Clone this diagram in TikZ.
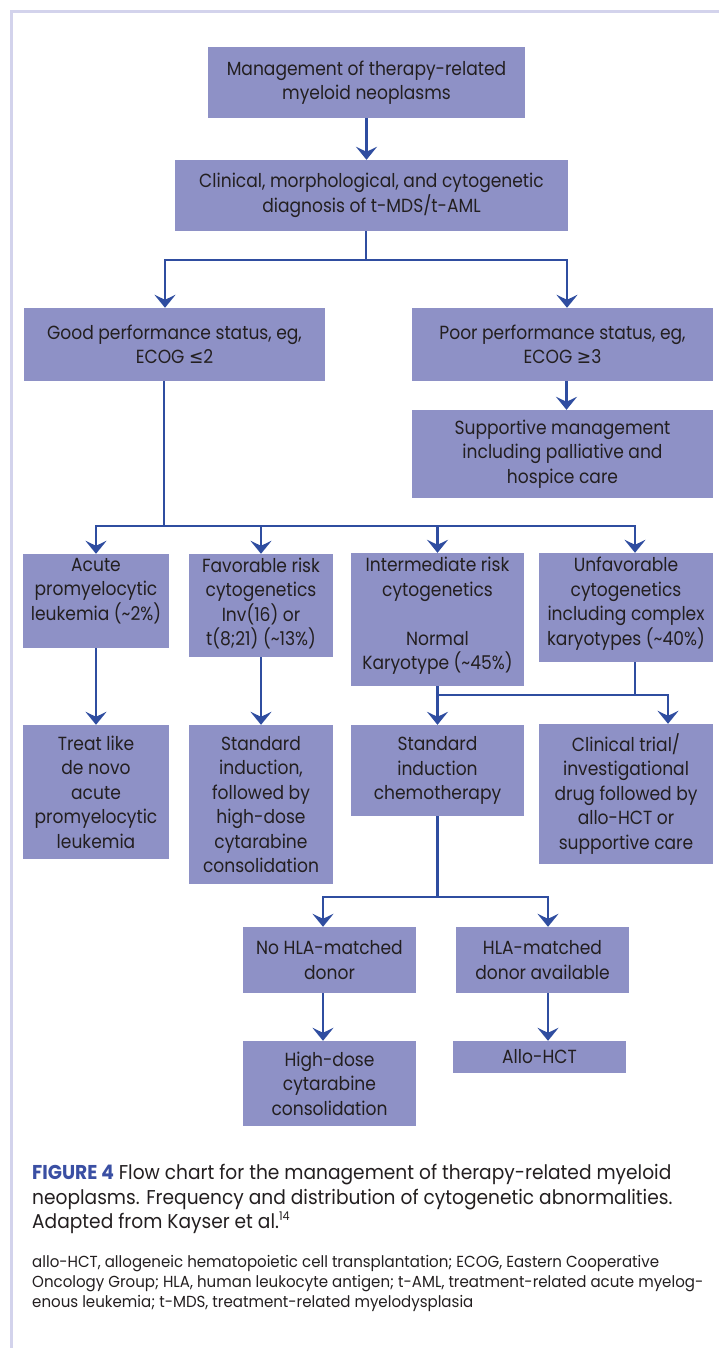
\documentclass[tikz,border=0pt]{standalone}
\usepackage{fontspec}
\setmainfont[FakeStretch=0.9]{Poppins}
\newfontfamily\symfont[FakeStretch=0.9]{DejaVu Sans}
\newfontfamily\capfont[FakeStretch=0.93]{Poppins}
\newfontfamily\fnfont[FakeStretch=0.94]{Poppins}
\usetikzlibrary{arrows.meta}
\definecolor{boxfill}{HTML}{8E91C6}
\definecolor{arrowblue}{HTML}{2F4DA0}
\definecolor{txtcol}{HTML}{231F20}
\definecolor{figblue}{HTML}{3A4FA3}
\definecolor{framecol}{HTML}{D3D3EC}
\begin{document}
\begin{tikzpicture}[x=1pt,y=-1pt,
  box/.style={fill=boxfill, draw=none, inner sep=0pt, text=txtcol, align=center,
    font=\fontsize{19}{24.5}\selectfont},
  txt/.style={inner sep=0pt, text=txtcol, align=center, font=\fontsize{19}{24.5}\selectfont},
  captxt/.style={inner sep=0pt, text=txtcol, anchor=base west, font=\capfont\fontsize{20}{24.5}\selectfont},
  fntxt/.style={inner sep=0pt, text=txtcol, anchor=base west, font=\fnfont\fontsize{16}{20}\selectfont},
  ln/.style={draw=arrowblue, line width=2.6pt},
  arr/.style={draw=arrowblue, line width=2.6pt, -{Stealth[length=13pt,width=21pt,inset=5pt]}},
]
\useasboundingbox (0,0) rectangle (719,1348);
\fill[white] (0,0) rectangle (719,1348);
\fill[framecol] (10,10) rectangle (719,13);
\fill[framecol] (10,10) rectangle (13,1348);

% boxes
\node[box, minimum width=317pt, minimum height=71pt] (n1) at (366.5,82.5) {Management of therapy-related\\myeloid neoplasms};
\node[box, minimum width=393pt, minimum height=71pt] (n2) at (371.5,195.5) {Clinical, morphological, and cytogenetic\\diagnosis of t-MDS/t-AML};
\node[box, minimum width=301pt, minimum height=73pt] (good) at (174.5,344.5) {Good performance status, eg,\\ECOG {\symfont ≤}2};
\node[box, minimum width=301pt, minimum height=73pt] (poor) at (562.5,344.5) {Poor performance status, eg,\\ECOG {\symfont ≥}3};
\node[box, minimum width=301pt, minimum height=88pt] (supp) at (562.5,454) {Supportive management\\including palliative and\\hospice care};

\node[box, minimum width=146pt, minimum height=94pt] (acute) at (96,601) {};
\node[txt] (acute-t) at (96,591) {Acute\\promyelocytic\\leukemia (\textasciitilde2\%)};
\node[box, minimum width=144pt, minimum height=103pt] (fav) at (261,605.5) {};
\node[txt] (fav-t) at (261,603.5) {Favorable risk\\cytogenetics\\Inv(16) or\\t(8;21) (\textasciitilde13\%)};
\node[box, minimum width=173pt, minimum height=133pt] (inter) at (437.5,619.5) {};
\node[txt] (inter-t) at (437.5,616) {Intermediate risk\\cytogenetics\\[24.5pt]Normal\\Karyotype (\textasciitilde45\%)};
\node[box, minimum width=174pt, minimum height=109pt] (unfav) at (626,607.5) {};
\node[txt] (unfav-t) at (626,603.5) {Unfavorable\\cytogenetics\\including complex\\karyotypes (\textasciitilde40\%)};

\node[box, minimum width=146pt, minimum height=134pt] (treat) at (96,792) {Treat like\\de novo\\acute\\promyelocytic\\leukemia};
\node[box, minimum width=144pt, minimum height=159pt] (std) at (261,804.5) {Standard\\induction,\\followed by\\high-dose\\cytarabine\\consolidation};
\node[box, minimum width=173pt, minimum height=91pt] (chemo) at (437.5,770.5) {Standard\\induction\\chemotherapy};
\node[box, minimum width=174pt, minimum height=140pt] (trial) at (626,794) {Clinical trial/\\investigational\\drug followed by\\allo-HCT or\\supportive care};

\node[box, minimum width=173pt, minimum height=66pt] (nohla) at (329.5,960) {No HLA-matched\\donor};
\node[box, minimum width=173pt, minimum height=66pt] (hla) at (542.5,960) {HLA-matched\\donor available};
\node[box, minimum width=173pt, minimum height=85pt] (high) at (329.5,1083.5) {High-dose\\cytarabine\\consolidation};
\node[box, minimum width=173pt, minimum height=32pt] (allo) at (539.5,1057) {Allo-HCT};

% connectors
\draw[arr] (n1.south) -- (n1.south |- n2.north);
\coordinate (j1) at (366,260);
\draw[ln] (n2.south -| j1) -- (j1);
\coordinate (g-in) at ([xshift=-9.5pt]good.north);
\coordinate (p-in) at ([xshift=4.5pt]poor.north);
\draw[arr] (j1) -| (g-in);
\draw[arr] (j1) -| (p-in);
\coordinate (p-out) at ([xshift=4pt]poor.south);
\draw[arr] (p-out) -- (p-out |- supp.north);

\coordinate (j2) at (164,526);
\draw[ln] (good.south -| j2) -- (j2);
\coordinate (u-in) at ([xshift=9pt]unfav.north);
\draw[arr] (j2) -| (acute.north);
\draw[arr] (j2) -| (fav.north);
\draw[arr] (j2) -| (inter.north);
\draw[arr] (j2) -| (u-in);

\draw[arr] (acute.south) -- (treat.north);
\draw[arr] (fav.south) -- (std.north);
\coordinate (j3) at (437.5,695);
\draw[ln] (inter.south) -- (j3);
\coordinate (u-out) at ([xshift=9pt]unfav.south);
\draw[ln] (u-out) -- (u-out |- j3);
\coordinate (t-in) at ([xshift=42pt]trial.north);
\draw[arr] (j3) -- (chemo.north);
\draw[arr] (j3) -| (t-in);

\coordinate (j4) at (437.5,897);
\draw[ln] (chemo.south) -- (j4);
\coordinate (nh-in) at ([xshift=-6.5pt]nohla.north);
\coordinate (h-in) at ([xshift=5.5pt]hla.north);
\draw[arr] (j4) -| (nh-in);
\draw[arr] (j4) -| (h-in);
\coordinate (nh-out) at ([xshift=-6.5pt]nohla.south);
\coordinate (h-out) at ([xshift=5.5pt]hla.south);
\draw[arr] (nh-out) -- (nh-out |- high.north);
\draw[arr] (h-out) -- (h-out |- allo.north);

% caption
\node[captxt] (cap1) at (32,1179) {{\bfseries\color{figblue}FIGURE 4} Flow chart for the management of therapy-related myeloid};
\node[captxt] (cap2) at (32,1204) {neoplasms. Frequency and distribution of cytogenetic abnormalities.};
\node[captxt] (cap3) at (32,1228.5) {Adapted from Kayser et al.\textsuperscript{\fontsize{12}{12}\selectfont 14}};
\node[fntxt] (fn1) at (32,1267) {allo-HCT, allogeneic hematopoietic cell transplantation; ECOG, Eastern Cooperative};
\node[fntxt] (fn2) at (32,1287) {Oncology Group; HLA, human leukocyte antigen; t-AML, treatment-related acute myelog-};
\node[fntxt] (fn3) at (32,1307) {enous leukemia; t-MDS, treatment-related myelodysplasia};
\end{tikzpicture}
\end{document}
